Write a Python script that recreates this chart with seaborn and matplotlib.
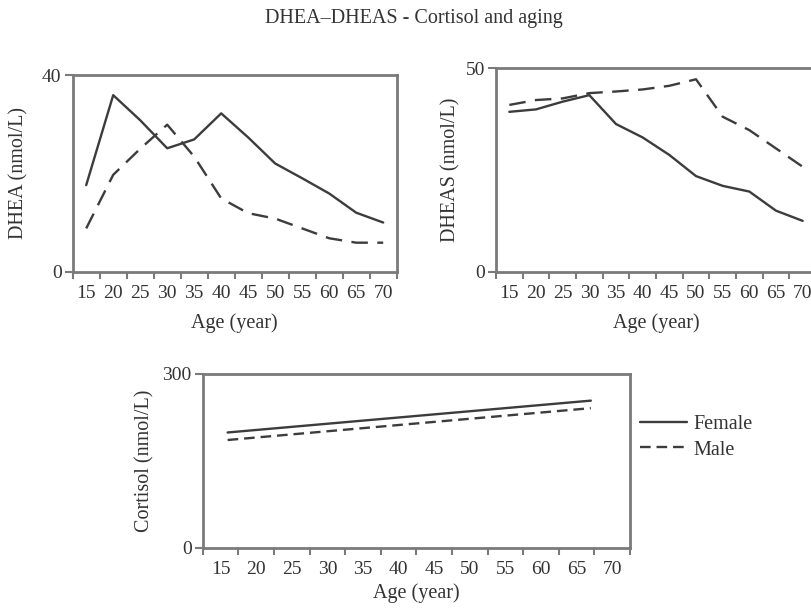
import numpy as np
import pandas as pd
import matplotlib
matplotlib.use("Agg")
import matplotlib.pyplot as plt
import seaborn as sns

sns.set_theme(style="white")
plt.rcParams['font.family'] = ['Liberation Serif', 'DejaVu Serif']

# ---- data ----
ages = [15, 20, 25, 30, 35, 40, 45, 50, 55, 60, 65, 70]
age_labels = [str(a) for a in ages]
dhea_female = [17.6, 35.9, 30.8, 25.1, 26.9, 32.2, 27.3, 22.0, 19.0, 15.9, 12.0, 10.0]
dhea_male = [8.8, 19.7, 25.0, 29.9, 23.4, 14.9, 11.9, 10.8, 8.8, 6.8, 5.9, 5.9]
dheas_female = [39.3, 39.9, 41.8, 43.4, 36.3, 33.0, 28.7, 23.5, 21.1, 19.7, 15.0, 12.5]
dheas_male = [41.0, 42.2, 42.6, 43.9, 44.3, 44.8, 45.7, 47.3, 38.1, 34.8, 30.3, 25.8]
cortisol_ages = [16, 67]
cortisol_female = [199, 254]
cortisol_male = [186, 241]

title = "DHEA\u2013DHEAS - Cortisol and aging"
xlabel = "Age (year)"

def long_df(x, f, m):
    return pd.DataFrame({
        "Age": list(x) + list(x),
        "Value": list(f) + list(m),
        "Sex": ["Female"] * len(x) + ["Male"] * len(x),
    })

df_dhea = long_df(ages, dhea_female, dhea_male)
df_dheas = long_df(ages, dheas_female, dheas_male)
df_cort = long_df(cortisol_ages, cortisol_female, cortisol_male)

LINE = "#3c3c3c"
SPINE = "#7a7a7a"
TEXT = "#333333"
FS = 14.5
TFS = 14

fig = plt.figure(figsize=(8.12, 6.08), dpi=100)
W, H = 812, 608

def add_ax(l, r, t, b):
    return fig.add_axes([l / W, 1 - b / H, (r - l) / W, (b - t) / H])

ax1 = add_ax(72.7, 396.7, 75, 271.7)
ax2 = add_ax(496, 816, 68.3, 271.7)
ax3 = add_ax(202.7, 630, 374, 547.7)

def style_ax(ax, ymax, ylabel, ylabelpad, xlabelpad):
    ax.set_xlim(12.5, 72.5)
    ax.set_ylim(0, ymax)
    ax.set_xticks(np.arange(12.5, 73, 5))
    ax.set_xticklabels([])
    ax.set_xticks(ages, minor=True)
    ax.set_xticklabels(age_labels, minor=True)
    ax.tick_params(axis="x", which="major", length=5, width=1.5, color=SPINE, direction="out", bottom=True)
    ax.tick_params(axis="x", which="minor", length=0, pad=9.5, labelsize=TFS, labelcolor=TEXT)
    ax.set_yticks([0, ymax])
    ax.set_yticklabels(["0", str(ymax)])
    ax.tick_params(axis="y", length=6, width=1.5, color=SPINE, direction="out", left=True,
                   labelsize=TFS, labelcolor=TEXT, pad=2)
    for s in ax.spines.values():
        s.set_visible(True)
        s.set_color(SPINE)
        s.set_linewidth(2.0)
    ax.set_ylabel(ylabel, fontsize=FS, color=TEXT, labelpad=ylabelpad)
    ax.set_xlabel(xlabel, fontsize=FS, color=TEXT, labelpad=xlabelpad)
    ax.set_facecolor("white")

sns.lineplot(data=df_dhea, x="Age", y="Value", style="Sex",
             dashes={"Female": "", "Male": (7, 4)}, color=LINE, linewidth=1.7,
             ax=ax1, legend=False)
style_ax(ax1, 40, "DHEA (nmol/L)", 10, 8)

sns.lineplot(data=df_dheas, x="Age", y="Value", style="Sex",
             dashes={"Female": "", "Male": (7, 4)}, color=LINE, linewidth=1.7,
             ax=ax2, legend=False)
style_ax(ax2, 50, "DHEAS (nmol/L)", 3.5, 8)

sns.lineplot(data=df_cort, x="Age", y="Value", style="Sex",
             dashes={"Female": "", "Male": (4.5, 2.5)}, color=LINE, linewidth=1.7,
             ax=ax3, legend=True)
style_ax(ax3, 300, "Cortisol (nmol/L)", 6, 4)

leg = ax3.legend(loc="center left", bbox_to_anchor=(1.023, 0.635), frameon=False,
                 fontsize=FS, handlelength=2.35, handletextpad=0.3, labelspacing=0.3,
                 borderaxespad=0, borderpad=0)
for t in leg.get_texts():
    t.set_color(TEXT)
for h in leg.get_lines():
    h.set_color(LINE)
    h.set_linewidth(1.7)

fig.text(414 / W, 1 - 18 / H, title, ha="center", va="center", fontsize=FS, color=TEXT)

fig.savefig("out.png", dpi=100, facecolor="white")
